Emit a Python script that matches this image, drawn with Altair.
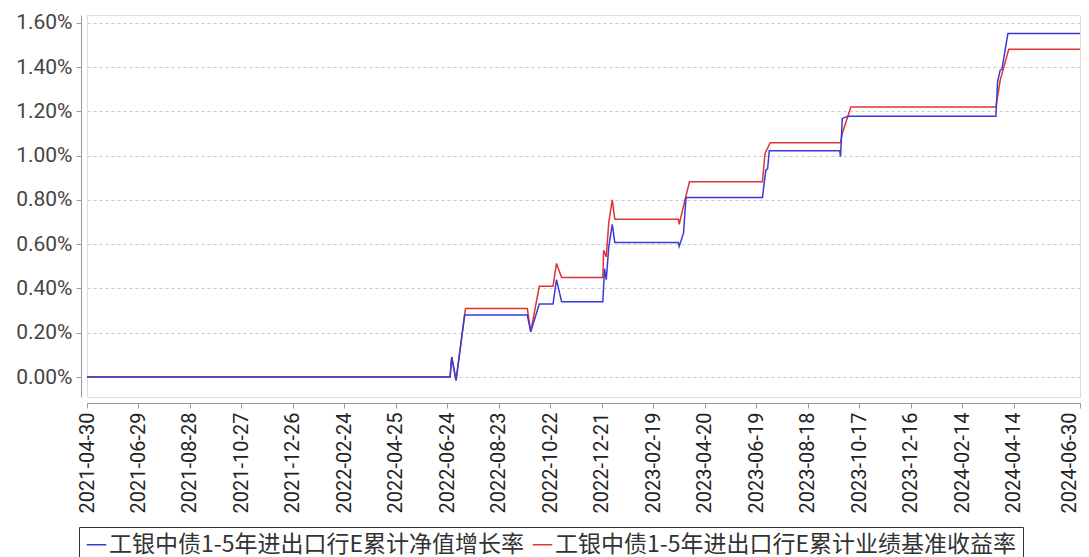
import altair as alt
import pandas as pd

nav_label = "工银中债1-5年进出口行E累计净值增长率"
bm_label = "工银中债1-5年进出口行E累计业绩基准收益率"

nav_dates = ["2021-04-30", "2022-06-27", "2022-06-29", "2022-07-04", "2022-07-14",
             "2022-09-25", "2022-09-29", "2022-10-09", "2022-10-25", "2022-10-29",
             "2022-11-04", "2022-12-22", "2022-12-24", "2022-12-26", "2022-12-29",
             "2023-01-02", "2023-01-05", "2023-03-20", "2023-03-21", "2023-03-26",
             "2023-03-29", "2023-06-26", "2023-06-30", "2023-07-02", "2023-07-04",
             "2023-09-24", "2023-09-25", "2023-09-27", "2023-10-04", "2024-03-24",
             "2024-03-26", "2024-03-29", "2024-03-31", "2024-04-07", "2024-06-30"]
nav_vals = [0.0, 0.0, 0.09, -0.015, 0.28,
            0.28, 0.205, 0.33, 0.33, 0.44,
            0.34, 0.34, 0.49, 0.44, 0.59,
            0.69, 0.608, 0.608, 0.59, 0.65,
            0.811, 0.811, 0.935, 0.94, 1.022,
            1.022, 0.995, 1.168, 1.178, 1.178,
            1.333, 1.386, 1.39, 1.552, 1.552]

bm_dates = ["2021-04-30", "2022-06-27", "2022-06-29", "2022-07-04", "2022-07-15",
            "2022-09-25", "2022-09-29", "2022-10-09", "2022-10-25", "2022-10-29",
            "2022-11-04", "2022-12-22", "2022-12-23", "2022-12-26", "2022-12-29",
            "2023-01-02", "2023-01-05", "2023-03-20", "2023-03-21", "2023-03-29",
            "2023-04-02", "2023-06-26", "2023-06-29", "2023-07-05", "2023-09-25",
            "2023-09-27", "2023-10-07", "2024-03-24", "2024-03-29", "2024-04-08",
            "2024-06-30"]
bm_vals = [0.0, 0.0, 0.09, -0.015, 0.31,
           0.31, 0.205, 0.41, 0.41, 0.513,
           0.45, 0.45, 0.573, 0.543, 0.70,
           0.80, 0.713, 0.713, 0.69, 0.82,
           0.882, 0.882, 1.01, 1.058, 1.058,
           1.10, 1.22, 1.22, 1.34, 1.48,
           1.48]

tick_dates = ["2021-04-30", "2021-06-29", "2021-08-28", "2021-10-27", "2021-12-26",
              "2022-02-24", "2022-04-25", "2022-06-24", "2022-08-23", "2022-10-22",
              "2022-12-21", "2023-02-19", "2023-04-20", "2023-06-19", "2023-08-18",
              "2023-10-17", "2023-12-16", "2024-02-14", "2024-04-14", "2024-06-30"]
y_ticks = [0.0, 0.2, 0.4, 0.6, 0.8, 1.0, 1.2, 1.4, 1.6]

series_domain = [nav_label, bm_label]
series_colors = ["#3a3ad8", "#e03333"]

nav_df = pd.DataFrame({"date": nav_dates, "value": nav_vals, "series": nav_label})
bm_df = pd.DataFrame({"date": bm_dates, "value": bm_vals, "series": bm_label})


def dt(s):
    y, m, d = (int(p) for p in s.split("-"))
    return alt.DateTime(year=y, month=m, date=d, utc=True)


FONT = "Roboto, Noto Sans CJK SC"
LFONT = "Noto Sans CJK SC"

x_enc = alt.X(
    "date:T",
    scale=alt.Scale(type="utc", domain=[dt(tick_dates[0]), dt(tick_dates[-1])], nice=False),
    axis=alt.Axis(
        title=None, values=[dt(t) for t in tick_dates],
        labelExpr="utcFormat(datum.value, '%Y-%m-%d')",
        labelAngle=270, labelAlign="right", labelBaseline="middle", grid=False,
        labelOffset={"condition": {"test": "datum.value > 1716000000000", "value": -11}, "value": 0},
        offset=6, tickSize=5, tickColor="#999", domainColor="#999",
        labelFontSize=20, labelColor="#222", labelFont=FONT, labelPadding=4,
        labelOverlap=False, labelBound=False, labelFlush=False,
    ),
)
y_enc = alt.Y(
    "value:Q",
    scale=alt.Scale(domain=[-0.09, 1.635], nice=False, zero=False),
    axis=alt.Axis(
        title=None, values=y_ticks, labelExpr="format(datum.value, '.2f') + '%'",
        offset=6, tickSize=5, tickColor="#999", domainColor="#999",
        grid=True, gridColor="#c8c8c8", gridDash=[3, 3], gridWidth=1,
        labelFontSize=21, labelColor="#444", labelFont=FONT, labelPadding=4,
    ),
)
color_enc = alt.Color(
    "series:N",
    scale=alt.Scale(domain=series_domain, range=series_colors),
    legend=alt.Legend(
        title=None, orient="none", legendX=-8, legendY=512, direction="horizontal",
        symbolType="stroke", symbolSize=380, symbolStrokeWidth=1.5,
        labelFontSize=23, labelFont=LFONT, labelColor="#333", labelLimit=0,
        strokeColor="#333", padding=6, columnPadding=4, labelOffset=1,
    ),
)

bm_line = alt.Chart(bm_df).mark_line(strokeWidth=1.5).encode(x=x_enc, y=y_enc, color=color_enc)
nav_line = alt.Chart(nav_df).mark_line(strokeWidth=1.5).encode(x=x_enc, y=y_enc, color=color_enc)

chart = alt.layer(bm_line, nav_line).properties(
    width=993, height=382,
    autosize=alt.AutoSizeParams(type="none"),
    padding={"top": 7, "left": 79, "right": 1, "bottom": 175},
).configure_view(stroke="#888", strokeWidth=1).configure(background="white")

chart.save("out.html", embed_options={"renderer": "svg", "actions": False})
